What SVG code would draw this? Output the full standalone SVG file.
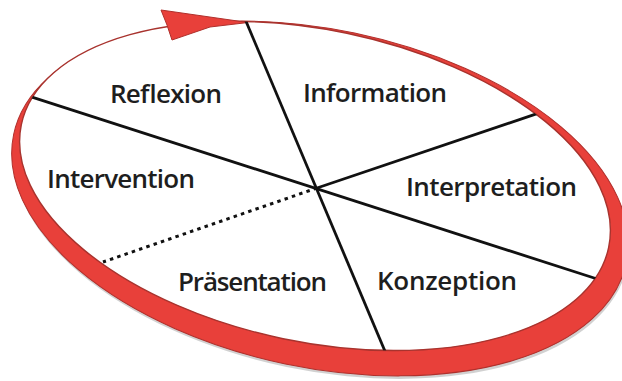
<svg xmlns="http://www.w3.org/2000/svg" width="622" height="381" viewBox="0 0 622 381">
  <style>
    .lbl { font-family: "Open Sans", "Noto Sans", "DejaVu Sans", sans-serif; font-size: 26px; font-weight: 600; fill: #1e1e1e; }
    .ln { stroke: #111; stroke-width: 2.8; fill: none; stroke-linecap: butt; }
    .dot { stroke: #111; stroke-width: 3; fill: none; stroke-dasharray: 3.5 4.2; }
  </style>
  <defs>
    <clipPath id="faceClip">
      <ellipse cx="315" cy="186" rx="300" ry="156" transform="rotate(11.8 315 186)"/>
    </clipPath>
  </defs>
  <rect width="622" height="381" fill="#ffffff"/>
  <g id="disc">
    <ellipse cx="321" cy="201.5" rx="313" ry="169" transform="rotate(11.8 321 201.5)" fill="#9a9a9a" opacity="0.45"/>
    <ellipse cx="320" cy="198.5" rx="313" ry="169" transform="rotate(11.8 320 198.5)" fill="#e8403a" stroke="#b0302c" stroke-width="1"/>
    <ellipse cx="315" cy="186" rx="300" ry="156" transform="rotate(11.8 315 186)" fill="#ffffff" stroke="#a8332e" stroke-width="1.4"/>
    <polygon points="161,10 248,22.5 210,27 172,40 167,25" fill="#e8403a" stroke="#b0302c" stroke-width="1"/>
  </g>
  <g id="connectors" clip-path="url(#faceClip)">
    <line class="ln" x1="244" y1="16.5" x2="387" y2="356"/>
    <line class="ln" x1="25" y1="94.8" x2="605" y2="281.5"/>
    <line class="ln" x1="540" y1="112.6" x2="317" y2="188"/>
    <line class="dot" x1="317" y1="188" x2="103" y2="262"/>
  </g>
  <g id="reflexion"><text class="lbl" x="110" y="103" textLength="112">Reflexion</text></g>
  <g id="information"><text class="lbl" x="303" y="102" textLength="144">Information</text></g>
  <g id="interpretation"><text class="lbl" x="406" y="196" textLength="171">Interpretation</text></g>
  <g id="konzeption"><text class="lbl" x="377" y="290" textLength="140">Konzeption</text></g>
  <g id="praesentation"><text class="lbl" x="178" y="291" textLength="149">Präsentation</text></g>
  <g id="intervention"><text class="lbl" x="47" y="188" textLength="148">Intervention</text></g>
</svg>
